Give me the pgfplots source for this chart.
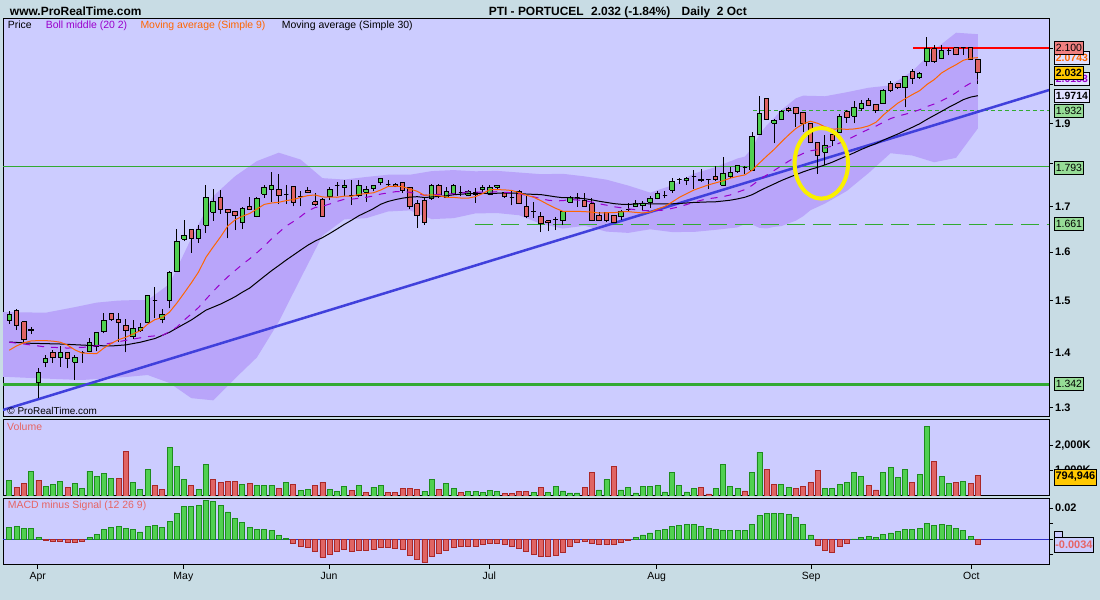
\documentclass[border=0pt]{standalone}
\usepackage{pgfplots}
\pgfplotsset{compat=1.18}
\usepackage{pgfplotstable}
\usepackage{fontspec}
\setmainfont{Liberation Sans}
\definecolor{bgout}{RGB}{200,220,228}
\definecolor{panel}{RGB}{204,204,255}
\definecolor{band}{RGB}{185,165,250}
\definecolor{cG}{RGB}{80,208,80}
\definecolor{cR}{RGB}{224,100,100}
\definecolor{vGd}{RGB}{30,140,30}
\definecolor{vRd}{RGB}{170,40,40}
\definecolor{ma9}{RGB}{255,102,0}
\definecolor{bollc}{RGB}{153,0,204}
\definecolor{trend}{RGB}{64,64,220}
\definecolor{lineG}{RGB}{50,170,50}
\definecolor{zeroL}{RGB}{48,48,200}
\definecolor{lblred}{RGB}{230,100,100}
\definecolor{boxG}{RGB}{150,220,150}
\definecolor{boxR}{RGB}{240,128,128}
\definecolor{boxY}{RGB}{255,200,0}
\definecolor{boxL}{RGB}{225,225,255}
\definecolor{ell}{RGB}{250,240,0}

\pgfplotstableread{
i o h l c
0 1.4603 1.4799 1.4540 1.4715
1 1.4813 1.4827 1.4423 1.4520
2 1.4584 1.4590 1.4180 1.4245
3 1.4410 1.4482 1.4346 1.4436
4 1.3440 1.3705 1.3168 1.3637
5 1.3815 1.3951 1.3723 1.3877
6 1.4000 1.4044 1.3808 1.3908
7 1.3908 1.4124 1.3734 1.4000
8 1.4000 1.4000 1.3705 1.3890
9 1.3815 1.3951 1.3493 1.3900
10 1.3990 1.4020 1.3810 1.3990
11 1.4007 1.4264 1.4000 1.4193
12 1.4107 1.4390 1.4020 1.4379
13 1.4390 1.4748 1.4360 1.4603
14 1.4748 1.4760 1.4600 1.4630
15 1.4617 1.4760 1.4203 1.4565
16 1.4520 1.4630 1.4000 1.4410
17 1.4295 1.4617 1.4245 1.4456
18 1.4410 1.4550 1.4390 1.4475
19 1.4565 1.5120 1.4565 1.5110
20 1.5000 1.5280 1.4650 1.5000
21 1.4630 1.4827 1.4550 1.4715
22 1.4997 1.5610 1.4846 1.5578
23 1.5590 1.6495 1.5590 1.6240
24 1.6280 1.6700 1.6240 1.6370
25 1.6500 1.6500 1.5990 1.6300
26 1.6300 1.6590 1.6200 1.6500
27 1.6583 1.7500 1.6410 1.7215
28 1.6870 1.7406 1.6686 1.7110
29 1.7215 1.7380 1.6840 1.6940
30 1.6940 1.6940 1.6300 1.6870
31 1.6900 1.6900 1.6480 1.6800
32 1.6640 1.7000 1.6500 1.6960
33 1.7010 1.7230 1.6920 1.6940
34 1.6770 1.7230 1.6760 1.7190
35 1.7280 1.7500 1.7210 1.7450
36 1.7400 1.7800 1.7110 1.7500
37 1.7400 1.7750 1.7070 1.7260
38 1.7280 1.7500 1.7070 1.7280
39 1.7470 1.7480 1.7010 1.7100
40 1.7240 1.7360 1.7010 1.7240
41 1.7380 1.7450 1.7310 1.7330
42 1.7110 1.7320 1.7010 1.7060
43 1.7170 1.7200 1.6780 1.6790
44 1.7240 1.7450 1.7150 1.7400
45 1.7480 1.7570 1.7240 1.7480
46 1.7450 1.7617 1.7240 1.7500
47 1.7250 1.7620 1.7050 1.7250
48 1.7250 1.7620 1.7220 1.7500
49 1.7330 1.7480 1.7110 1.7400
50 1.7410 1.7500 1.7350 1.7480
51 1.7570 1.7660 1.7500 1.7660
52 1.7520 1.7610 1.7450 1.7520
53 1.7520 1.7550 1.7450 1.7460
54 1.7570 1.7580 1.7310 1.7380
55 1.7450 1.7450 1.6940 1.7000
56 1.7070 1.7150 1.6520 1.6800
57 1.7140 1.7210 1.6600 1.6650
58 1.7190 1.7530 1.7160 1.7500
59 1.7500 1.7530 1.7200 1.7280
60 1.7210 1.7450 1.7210 1.7350
61 1.7300 1.7530 1.7260 1.7500
62 1.7330 1.7480 1.7240 1.7330
63 1.7260 1.7380 1.7240 1.7340
64 1.7280 1.7420 1.7090 1.7330
65 1.7390 1.7500 1.7340 1.7450
66 1.7280 1.7500 1.7260 1.7450
67 1.7450 1.7500 1.7380 1.7500
68 1.7330 1.7340 1.7210 1.7240
69 1.7210 1.7380 1.7030 1.7210
70 1.7360 1.7380 1.7060 1.7070
71 1.7010 1.7250 1.6740 1.6790
72 1.6900 1.7100 1.6750 1.6900
73 1.6790 1.6880 1.6430 1.6620
74 1.6690 1.6690 1.6450 1.6650
75 1.6710 1.6770 1.6480 1.6710
76 1.6690 1.6890 1.6600 1.6890
77 1.7100 1.7250 1.7080 1.7220
78 1.7210 1.7310 1.7000 1.7210
79 1.7150 1.7310 1.7000 1.7010
80 1.7070 1.7210 1.6680 1.6700
81 1.6810 1.6890 1.6680 1.6700
82 1.6870 1.6890 1.6650 1.6700
83 1.6810 1.6810 1.6630 1.6650
84 1.6770 1.6920 1.6710 1.6890
85 1.6930 1.7080 1.6890 1.6930
86 1.7010 1.7150 1.7000 1.7070
87 1.7020 1.7120 1.6930 1.7080
88 1.7100 1.7240 1.6980 1.7190
89 1.7190 1.7350 1.7170 1.7310
90 1.7250 1.7370 1.7190 1.7250
91 1.7380 1.7670 1.7320 1.7580
92 1.7620 1.7670 1.7530 1.7620
93 1.7600 1.7690 1.7500 1.7650
94 1.7690 1.7850 1.7410 1.7690
95 1.7640 1.7870 1.7580 1.7610
96 1.7620 1.7650 1.7410 1.7620
97 1.7690 1.7950 1.7600 1.7620
98 1.7500 1.8160 1.7470 1.7760
99 1.7690 1.7920 1.7670 1.7800
100 1.7810 1.7980 1.7790 1.7950
101 1.7920 1.7960 1.7750 1.7920
102 1.7850 1.8790 1.7840 1.8660
103 1.8730 1.9700 1.8730 1.9250
104 1.9630 1.9650 1.9090 1.9100
105 1.9000 1.9100 1.8500 1.9070
106 1.9100 1.9350 1.9090 1.9300
107 1.9380 1.9410 1.9290 1.9320
108 1.9410 1.9410 1.8910 1.9250
109 1.9280 1.9280 1.8790 1.9000
110 1.9000 1.9020 1.8500 1.8530
111 1.8510 1.8510 1.7770 1.8200
112 1.8280 1.8710 1.7970 1.8440
113 1.8710 1.8710 1.8440 1.8570
114 1.8780 1.9250 1.8780 1.9170
115 1.9300 1.9350 1.9010 1.9150
116 1.9180 1.9580 1.9000 1.9410
117 1.9380 1.9600 1.9320 1.9510
118 1.9580 1.9650 1.9440 1.9450
119 1.9490 1.9500 1.9260 1.9340
120 1.9510 1.9880 1.9500 1.9860
121 2.0030 2.0100 1.9810 1.9850
122 2.0030 2.0030 1.9890 1.9920
123 1.9920 2.0210 1.9410 2.0210
124 2.0360 2.0430 2.0030 2.0160
125 2.0190 2.0350 2.0160 2.0310
126 2.0620 2.1330 2.0500 2.0980
127 2.0980 2.1100 2.0600 2.0620
128 2.0720 2.1080 2.0700 2.0940
129 2.0940 2.1000 2.0800 2.0940
130 2.1010 2.1010 2.0800 2.0820
131 2.1010 2.1020 2.0820 2.1010
132 2.1010 2.1010 2.0670 2.0700
133 2.0690 2.0690 2.0030 2.0320
}\ohlc

\begin{document}
\begin{tikzpicture}[x=1bp,y=1bp]
\fill[bgout] (0,0) rectangle (1100,600);
\useasboundingbox (0,0) rectangle (1100,600);

% ---------------- PRICE PANEL ----------------
\begin{axis}[
  at={(3bp,183bp)}, anchor=south west,
  width=1046bp, height=398bp, scale only axis,
  xmin=-0.865, xmax=142.76,
  ymode=log, ymin=1.2843, ymax=2.1835,
  axis background/.style={fill=panel},
  axis line style={line width=1bp},
  xtick=\empty,
  ytick={1.3,1.4,1.5,1.6,1.7,1.8,1.9,2.0,2.1},
  yticklabels={1.3,1.4,1.5,1.6,1.7,{},1.9,{},{}},
  ytick pos=right, yticklabel pos=right,
  tick align=outside, major tick length=4bp,
  every tick/.style={black, line width=1bp},
  yticklabel style={font=\bfseries\fontsize{11}{12}\selectfont, inner sep=0pt, anchor=west, xshift=2bp},
]
% Bollinger band
\addplot[fill=band, draw=none, forget plot] coordinates {
(-0.865,1.477) (0,1.477) (5,1.476) (9,1.487) (12,1.496) (15,1.500) (17,1.501) (19,1.5011) (22,1.5337) (25,1.6302) (28,1.7242) (31,1.7705) (34,1.8068) (37,1.8270) (40,1.8105) (43,1.7661) (46,1.7627) (49,1.7687) (52,1.7742) (55,1.7742) (58,1.7828) (61,1.7853) (64,1.7823) (67,1.7832) (70,1.7793) (73,1.7754) (76,1.7764) (79,1.7703) (82,1.7625) (85,1.7487) (88,1.7323) (91,1.7490) (94,1.7768) (97,1.7923) (100,1.8131) (101,1.8175) (102,1.8384) (103,1.8719) (104,1.8951) (105,1.9131) (106,1.9338) (108,1.9645) (109,1.9716) (110,1.9710) (112,1.9701) (115,1.9805) (118,1.9923) (121,1.9986) (124,2.0369) (127,2.0954) (130,2.1439) (133,2.1397)
(133,1.8875) (130,1.8147) (127,1.8040) (124,1.8203) (121,1.8258) (118,1.7783) (115,1.7363) (112,1.7073) (110,1.6920) (109,1.6786) (108,1.6689) (106,1.6566) (105,1.6549) (104,1.6515) (103,1.6527) (102,1.6602) (101,1.6615) (100,1.6537) (97,1.6485) (94,1.6438) (91,1.6436) (88,1.6497) (85,1.6417) (82,1.6445) (79,1.6575) (76,1.6512) (73,1.6616) (70,1.6809) (67,1.6856) (64,1.6849) (61,1.6743) (58,1.6722) (55,1.6918) (52,1.6892) (49,1.6743) (46,1.6715) (43,1.6359) (40,1.5451) (37,1.4582) (34,1.3906) (31,1.3521) (28,1.3132) (25,1.3170) (22,1.3439) (19,1.3583) (16,1.3547) (10,1.3493) (3,1.3529) (0,1.3547) (-0.865,1.3547)
};
% horizontal lines
\addplot[lineG, line width=1bp, forget plot] coordinates {(-0.865,1.793) (142.76,1.793)};
\addplot[lineG, line width=3bp, forget plot] coordinates {(-0.865,1.342) (142.76,1.342)};
\addplot[lineG, line width=1bp, dash pattern=on 18bp off 8bp, forget plot] coordinates {(63.9,1.661) (142.76,1.661)};
\addplot[lineG, line width=1bp, dash pattern=on 4bp off 3bp, forget plot] coordinates {(102.1,1.932) (142.76,1.932)};
\addplot[red, line width=1.5bp, forget plot] coordinates {(124.1,2.100) (142.76,2.100)};
% trend line
\addplot[trend, line width=2.5bp, forget plot] coordinates {(-0.865,1.2964) (142.76,1.9863)};
% candles
\pgfplotsforeachungrouped \k in {0,...,133}{%
  \pgfplotstablegetelem{\k}{o}\of\ohlc \let\vO\pgfplotsretval
  \pgfplotstablegetelem{\k}{h}\of\ohlc \let\vH\pgfplotsretval
  \pgfplotstablegetelem{\k}{l}\of\ohlc \let\vL\pgfplotsretval
  \pgfplotstablegetelem{\k}{c}\of\ohlc \let\vC\pgfplotsretval
  \pgfmathsetmacro\xa{\k-0.31}%
  \pgfmathsetmacro\xb{\k+0.31}%
  \ifdim\vC pt>\vO pt \def\fc{cG}\else \ifdim\vC pt<\vO pt \def\fc{cR}\else \def\fc{black}\fi\fi
  \edef\cmd{%
    \noexpand\addplot[black, line width=1bp, forget plot] coordinates {(\k,\vL) (\k,\vH)};%
    \noexpand\addplot[draw=black, fill=\fc, line width=1bp, forget plot] coordinates {(\xa,\vO) (\xb,\vO) (\xb,\vC) (\xa,\vC) (\xa,\vO)};%
  }\cmd
}
% MA30
\addplot[black, line width=1bp, forget plot] coordinates {
(0,1.4194) (3,1.417) (7,1.4156) (11,1.413) (14,1.4119) (16,1.414) (18,1.419) (20,1.426) (22,1.438) (23,1.446) (25,1.4617) (27,1.481) (28,1.487)
(29,1.4930) (30,1.5002) (31,1.5078) (32,1.5169) (33,1.5252) (34,1.5370) (35,1.5490) (36,1.5609) (37,1.5718) (38,1.5831) (39,1.5938) (40,1.6046) (41,1.6151) (42,1.6240) (43,1.6313) (44,1.6405) (45,1.6502) (46,1.6605) (47,1.6698) (48,1.6799) (49,1.6876) (50,1.6958) (51,1.7056) (52,1.7121) (53,1.7162) (54,1.7196) (55,1.7219) (56,1.7229) (57,1.7210) (58,1.7223) (59,1.7234) (60,1.7250) (61,1.7274) (62,1.7286) (63,1.7299) (64,1.7304) (65,1.7304) (66,1.7302) (67,1.7310) (68,1.7309) (69,1.7313) (70,1.7307) (71,1.7289) (72,1.7284) (73,1.7278) (74,1.7253) (75,1.7227) (76,1.7207) (77,1.7206) (78,1.7196) (79,1.7183) (80,1.7157) (81,1.7125) (82,1.7098) (83,1.7071) (84,1.7055) (85,1.7052) (86,1.7061) (87,1.7076) (88,1.7065) (89,1.7066) (90,1.7063) (91,1.7066) (92,1.7075) (93,1.7086) (94,1.7098) (95,1.7103) (96,1.7109) (97,1.7113) (98,1.7130) (99,1.7150) (100,1.7179) (101,1.7217) (102,1.7275) (103,1.7363) (104,1.7445) (105,1.7523) (106,1.7604) (107,1.7674) (108,1.7742) (109,1.7808) (110,1.7869) (111,1.7919) (112,1.7977) (113,1.8041) (114,1.8117) (115,1.8191) (116,1.8269) (117,1.8350) (118,1.8425) (119,1.8493) (120,1.8580) (121,1.8656) (122,1.8732) (123,1.8818) (124,1.8900) (125,1.8990) (126,1.9102) (127,1.9202) (128,1.9308) (129,1.9413) (130,1.9508) (131,1.9611) (132,1.9679) (133,1.9715)
};
% Boll middle (SMA20)
\addplot[bollc, line width=1bp, dash pattern=on 7bp off 7bp, forget plot] coordinates {
(0,1.419) (2,1.4156) (5,1.410) (8,1.408) (11,1.410) (14,1.4175) (17,1.4251) (19,1.4297) (20,1.4311) (21,1.4321) (22,1.4388) (23,1.4478) (24,1.4614) (25,1.4736) (26,1.4865) (27,1.5026) (28,1.5187) (29,1.5339) (30,1.5483) (31,1.5613) (32,1.5742) (33,1.5859) (34,1.5987) (35,1.6131) (36,1.6286) (37,1.6426) (38,1.6566) (39,1.6666) (40,1.6778) (41,1.6909) (42,1.6983) (43,1.7010) (44,1.7062) (45,1.7121) (46,1.7171) (47,1.7173) (48,1.7192) (49,1.7215) (50,1.7246) (51,1.7289) (52,1.7317) (53,1.7343) (54,1.7352) (55,1.7330) (56,1.7295) (57,1.7264) (58,1.7275) (59,1.7284) (60,1.7290) (61,1.7298) (62,1.7312) (63,1.7339) (64,1.7336) (65,1.7334) (66,1.7332) (67,1.7344) (68,1.7331) (69,1.7322) (70,1.7301) (71,1.7258) (72,1.7227) (73,1.7185) (74,1.7148) (75,1.7134) (76,1.7138) (77,1.7167) (78,1.7152) (79,1.7139) (80,1.7106) (81,1.7066) (82,1.7035) (83,1.7000) (84,1.6978) (85,1.6952) (86,1.6933) (87,1.6912) (88,1.6910) (89,1.6915) (90,1.6924) (91,1.6963) (92,1.6999) (93,1.7051) (94,1.7103) (95,1.7148) (96,1.7184) (97,1.7204) (98,1.7232) (99,1.7271) (100,1.7334) (101,1.7395) (102,1.7493) (103,1.7623) (104,1.7733) (105,1.7840) (106,1.7952) (107,1.8064) (108,1.8167) (109,1.8251) (110,1.8315) (111,1.8346) (112,1.8387) (113,1.8433) (114,1.8507) (115,1.8584) (116,1.8674) (117,1.8768) (118,1.8853) (119,1.8930) (120,1.9025) (121,1.9122) (122,1.9185) (123,1.9233) (124,1.9286) (125,1.9348) (126,1.9432) (127,1.9497) (128,1.9581) (129,1.9678) (130,1.9793) (131,1.9933) (132,2.0046) (133,2.0134)
};
% MA9
\addplot[ma9, line width=1bp, forget plot] coordinates {
(0,1.404) (1,1.412) (2,1.418) (3,1.4215) (4,1.422) (5,1.422) (6,1.421) (7,1.419) (8,1.4136) (9,1.4046) (10,1.3987) (11,1.3981) (12,1.3975) (13,1.4082) (14,1.4166) (15,1.4239) (16,1.4284) (17,1.4347) (18,1.4411) (19,1.4536) (20,1.4625) (21,1.4663) (22,1.4771) (23,1.4950) (24,1.5150) (25,1.5360) (26,1.5588) (27,1.5892) (28,1.6114) (29,1.6330) (30,1.6569) (31,1.6705) (32,1.6785) (33,1.6848) (34,1.6947) (35,1.7053) (36,1.7084) (37,1.7101) (38,1.7139) (39,1.7164) (40,1.7213) (41,1.7254) (42,1.7268) (43,1.7223) (44,1.7218) (45,1.7216) (46,1.7242) (47,1.7239) (48,1.7283) (49,1.7301) (50,1.7318) (51,1.7384) (52,1.7466) (53,1.7472) (54,1.7461) (55,1.7406) (56,1.7356) (57,1.7261) (58,1.7272) (59,1.7250) (60,1.7216) (61,1.7213) (62,1.7199) (63,1.7194) (64,1.7231) (65,1.7303) (66,1.7392) (67,1.7392) (68,1.7388) (69,1.7372) (70,1.7324) (71,1.7264) (72,1.7216) (73,1.7137) (74,1.7048) (75,1.6966) (76,1.6898) (77,1.6896) (78,1.6896) (79,1.6889) (80,1.6879) (81,1.6857) (82,1.6866) (83,1.6866) (84,1.6886) (85,1.6890) (86,1.6873) (87,1.6859) (88,1.6879) (89,1.6947) (90,1.7008) (91,1.7106) (92,1.7213) (93,1.7298) (94,1.7382) (95,1.7442) (96,1.7502) (97,1.7550) (98,1.7600) (99,1.7661) (100,1.7702) (101,1.7736) (102,1.7848) (103,1.8021) (104,1.8187) (105,1.8348) (106,1.8534) (107,1.8708) (108,1.8869) (109,1.8986) (110,1.9053) (111,1.9002) (112,1.8912) (113,1.8853) (114,1.8864) (115,1.8848) (116,1.8858) (117,1.8887) (118,1.8937) (119,1.9027) (120,1.9211) (121,1.9368) (122,1.9518) (123,1.9633) (124,1.9746) (125,1.9846) (126,2.0009) (127,2.0139) (128,2.0317) (129,2.0437) (130,2.0544) (131,2.0666) (132,2.0720) (133,2.0738)
};
% yellow ellipse annotation
\draw[ell, line width=4bp] (axis cs:111.5,1.8013) ellipse [x radius=26.7bp, y radius=35.3bp];
\end{axis}

% ---------------- VOLUME PANEL ----------------
\begin{axis}[
  at={(3bp,104bp)}, anchor=south west,
  width=1046bp, height=76bp, scale only axis,
  xmin=-0.865, xmax=142.76,
  ymin=0, ymax=3000,
  axis background/.style={fill=panel},
  axis line style={line width=1bp},
  xtick=\empty,
  ytick={1000,2000}, yticklabels={1{,}000K,2{,}000K},
  ytick pos=right, yticklabel pos=right,
  tick align=outside, major tick length=4bp,
  every tick/.style={black, line width=1bp},
  yticklabel style={font=\bfseries\fontsize{11}{12}\selectfont, inner sep=0pt, anchor=west, xshift=2bp},
]
\addplot[ybar, bar width=5bp, bar shift=0pt, fill=cG, draw=vGd, line width=0.8bp, forget plot] coordinates {
(0,629) (3,983) (5,393) (6,472) (7,590) (9,511) (10,314) (11,983) (12,786) (13,904) (14,707) (17,550) (18,275) (19,1061) (22,1926) (23,1179) (24,668) (26,275) (27,1258) (32,472) (34,432) (35,432) (36,432) (38,550) (40,236) (41,275) (44,275) (45,197) (46,393) (48,432) (50,354) (51,432) (57,197) (58,668) (60,511) (61,314) (63,197) (64,197) (65,157) (66,236) (67,197) (72,157) (74,157) (75,360) (76,200) (77,120) (78,120) (81,240) (82,640) (84,240) (85,320) (86,120) (87,360) (88,360) (89,400) (90,160) (91,920) (92,400) (93,160) (94,280) (97,280) (98,1240) (99,360) (100,280) (102,920) (103,1720) (106,440) (107,320) (112,280) (113,280) (114,440) (115,520) (116,920) (117,760) (120,920) (121,1120) (122,720) (123,1040) (125,840) (126,2760) (128,760) (129,480) (131,560)
};
\addplot[ybar, bar width=5bp, bar shift=0pt, fill=cR, draw=vRd, line width=0.8bp, forget plot] coordinates {
(1,354) (2,511) (4,629) (8,354) (15,707) (16,1769) (20,432) (21,275) (25,432) (28,668) (29,550) (30,590) (31,590) (33,511) (37,314) (39,472) (42,432) (43,550) (47,236) (49,157) (52,157) (53,157) (54,314) (55,314) (56,275) (59,275) (62,157) (68,118) (69,118) (70,197) (71,197) (73,354) (79,320) (80,920) (83,1160) (95,320) (96,80) (101,200) (104,1040) (105,440) (108,280) (109,360) (110,520) (111,1000) (118,400) (119,240) (124,520) (127,1360) (130,520) (132,480) (133,795)
};
\end{axis}

% ---------------- MACD PANEL ----------------
\begin{axis}[
  at={(3bp,35bp)}, anchor=south west,
  width=1046bp, height=66bp, scale only axis,
  xmin=-0.865, xmax=142.76,
  ymin=-0.01653, ymax=0.02592,
  axis background/.style={fill=panel},
  axis line style={line width=1bp},
  xtick={3.9,23.9,43.9,65.9,88.9,110.1,132.1},
  xticklabels={Apr,May,Jun,Jul,Aug,Sep,Oct},
  xtick pos=bottom,
  ytick={-0.01,0,0.01,0.02}, yticklabels={{},{},{},0.02},
  ytick pos=right, yticklabel pos=right,
  tick align=outside, major tick length=4bp,
  every tick/.style={black, line width=1bp},
  yticklabel style={font=\bfseries\fontsize{11}{12}\selectfont, inner sep=0pt, anchor=west, xshift=2bp},
  xticklabel style={font=\fontsize{10.5}{12}\selectfont, inner sep=1pt, yshift=-2bp},
  scaled y ticks=false,
]
\addplot[zeroL, line width=1bp, forget plot] coordinates {(-0.865,0) (142.76,0)};
\addplot[ybar, bar width=5bp, bar shift=0pt, fill=cG, draw=vGd, line width=0.8bp, forget plot] coordinates {
(0,0.0075) (1,0.0081) (2,0.0068) (3,0.0068) (4,0.0014) (11,0.0009) (12,0.0034) (13,0.0061) (14,0.0075) (15,0.0081) (16,0.0068) (17,0.0061) (18,0.0047) (19,0.0081) (20,0.0088) (21,0.0075) (22,0.0115) (23,0.0169) (24,0.0210) (25,0.0210) (26,0.0217) (27,0.0250) (28,0.0244) (29,0.0217) (30,0.0176) (31,0.0135) (32,0.0108) (33,0.0075) (34,0.0061) (35,0.0061) (36,0.0054) (37,0.0027) (38,0.0007) (86,0.0014) (87,0.0028) (88,0.0041) (89,0.0055) (90,0.0062) (91,0.0083) (92,0.0090) (93,0.0097) (94,0.0097) (95,0.0083) (96,0.0069) (97,0.0062) (98,0.0055) (99,0.0055) (100,0.0055) (101,0.0055) (102,0.0097) (103,0.0152) (104,0.0166) (105,0.0166) (106,0.0166) (107,0.0159) (108,0.0138) (109,0.0097) (110,0.0028) (116,0.0002) (117,0.0014) (118,0.0021) (119,0.0014) (120,0.0034) (121,0.0041) (122,0.0048) (123,0.0062) (124,0.0062) (125,0.0069) (126,0.0103) (127,0.0090) (128,0.0097) (129,0.0090) (130,0.0069) (131,0.0055) (132,0.0021)
};
\addplot[ybar, bar width=5bp, bar shift=0pt, fill=cR, draw=vRd, line width=0.8bp, forget plot] coordinates {
(5,-0.0009) (6,-0.0014) (7,-0.0014) (8,-0.0020) (9,-0.0020) (10,-0.0014) (39,-0.0027) (40,-0.0047) (41,-0.0054) (42,-0.0081) (43,-0.0115) (44,-0.0095) (45,-0.0081) (46,-0.0068) (47,-0.0081) (48,-0.0074) (49,-0.0074) (50,-0.0068) (51,-0.0054) (52,-0.0054) (53,-0.0061) (54,-0.0068) (55,-0.0102) (56,-0.0129) (57,-0.0149) (58,-0.0108) (59,-0.0088) (60,-0.0074) (61,-0.0054) (62,-0.0047) (63,-0.0047) (64,-0.0047) (65,-0.0034) (66,-0.0027) (67,-0.0027) (68,-0.0034) (69,-0.0047) (70,-0.0061) (71,-0.0081) (72,-0.0095) (73,-0.0108) (74,-0.0108) (75,-0.0103) (76,-0.0083) (77,-0.0048) (78,-0.0021) (79,-0.0014) (80,-0.0028) (81,-0.0034) (82,-0.0034) (83,-0.0034) (84,-0.0021) (85,-0.0007) (111,-0.0041) (112,-0.0069) (113,-0.0083) (114,-0.0048) (115,-0.0028) (133,-0.0034)
};
\end{axis}

% ---------------- TEXTS ----------------
\begin{scope}[every node/.style={inner sep=0pt, anchor=base west}]
\node[font=\bfseries\fontsize{12}{14}\selectfont] at (9.8,584.2) {www.ProRealTime.com};
\node[font=\bfseries\fontsize{12}{14}\selectfont] at (488.6,584.2) {PTI - PORTUCEL};
\node[font=\bfseries\fontsize{12}{14}\selectfont] at (591,584.2) {2.032 (-1.84\%)};
\node[font=\bfseries\fontsize{12}{14}\selectfont] at (681.5,584.2) {Daily\ \ 2 Oct};
\node[font=\fontsize{10.5}{12}\selectfont] at (7.7,571.3) {Price};
\node[font=\fontsize{10.5}{12}\selectfont, text=bollc] at (45.6,571.3) {Boll middle (20 2)};
\node[font=\fontsize{10.5}{12}\selectfont, text=ma9] at (140.3,571.3) {Moving average (Simple 9)};
\node[font=\fontsize{10.5}{12}\selectfont] at (281.7,571.3) {Moving average (Simple 30)};
\node[font=\fontsize{10}{12}\selectfont] at (7.3,185.5) {\textcopyright\ ProRealTime.com};
\node[font=\fontsize{10.5}{12}\selectfont, text=lblred] at (7,169.5) {Volume};
\node[font=\fontsize{10.5}{12}\selectfont, text=lblred] at (7.7,91.5) {MACD minus Signal (12 26 9)};
\end{scope}

% ---------------- RIGHT LABEL BOXES ----------------
\begin{scope}[every node/.style={draw=black, line width=0.8bp, inner sep=0pt, anchor=west, minimum height=13bp, font=\fontsize{10.5}{12}\selectfont}]
\node[fill=boxL, minimum width=35bp, text=ma9, font=\bfseries\fontsize{10.5}{12}\selectfont] at (1054,542.5) {2.0743};
\node[fill=boxR, minimum width=29bp] at (1054,551.7) {2.100};
\node[fill=boxL, minimum width=35bp, text=bollc, font=\bfseries\fontsize{10.5}{12}\selectfont] at (1054,520.9) {2.0153};
\node[fill=boxY, minimum width=29bp, font=\bfseries\fontsize{10.5}{12}\selectfont] at (1054,527.1) {2.032};
\node[fill=boxL, minimum width=35bp, font=\bfseries\fontsize{10.5}{12}\selectfont] at (1054,504.4) {1.9714};
\node[fill=boxG, minimum width=29bp] at (1054,489) {1.932};
\node[fill=boxG, minimum width=29bp] at (1054,432) {1.793};
\node[fill=boxG, minimum width=29bp] at (1054,375.8) {1.661};
\node[fill=boxG, minimum width=29bp] at (1054,215.9) {1.342};
\node[fill=boxY, minimum width=42bp, minimum height=16bp, font=\bfseries\fontsize{11}{12}\selectfont] at (1054,123) {794,946};
\node[fill=panel, minimum width=8bp, minimum height=6bp] at (1054,66) {};
\node[fill=panel, minimum width=39bp, minimum height=15bp, text=lblred, font=\bfseries\fontsize{11}{12}\selectfont] at (1054,55.4) {-0.0034};
\end{scope}
\end{tikzpicture}
\end{document}
